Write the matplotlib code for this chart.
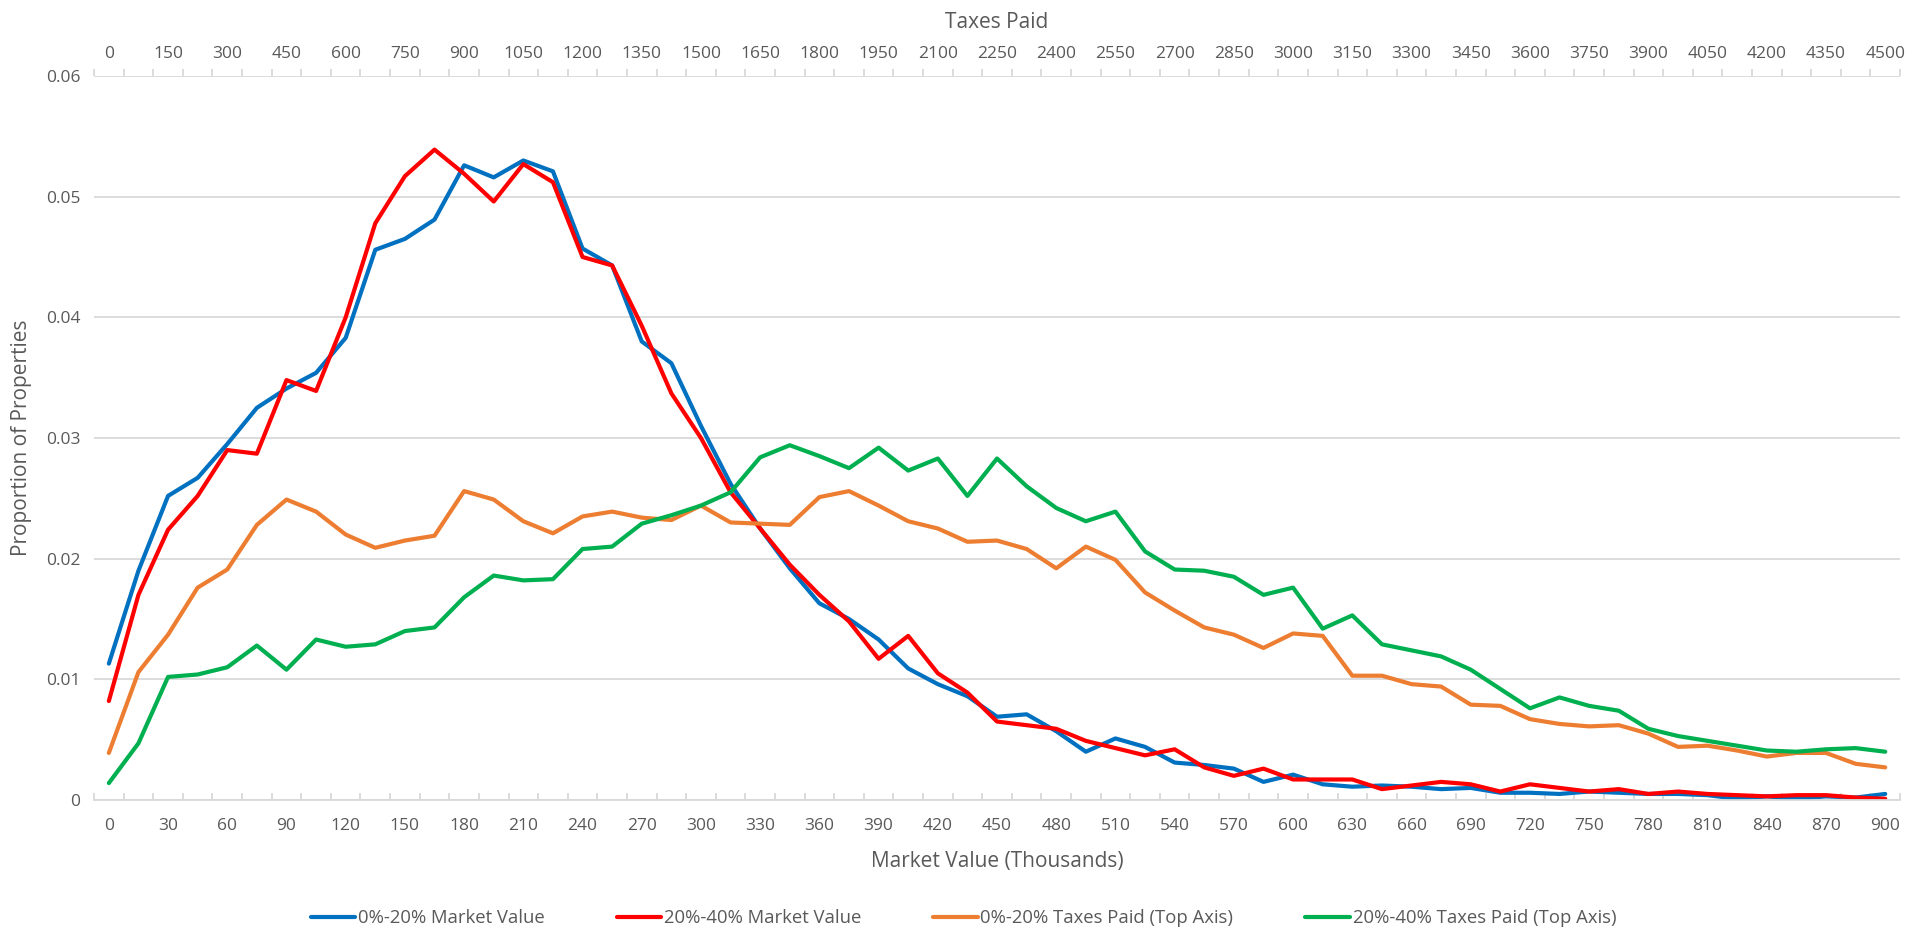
import numpy as np
import matplotlib
matplotlib.use("Agg")
import matplotlib.pyplot as plt

plt.rcParams['font.family'] = ['Open Sans', 'DejaVu Sans']

# categories
market_value = list(range(0, 901, 15))     # thousands
taxes_paid = list(range(0, 4501, 75))

# series (proportion of properties)
mv_0_20 = [0.0113, 0.0190, 0.0252, 0.0267, 0.0295, 0.0325, 0.0341, 0.0354, 0.0383, 0.0456,
           0.0465, 0.0481, 0.0526, 0.0516, 0.0530, 0.0521, 0.0457, 0.0443, 0.0380, 0.0362,
           0.0310, 0.0262, 0.0225, 0.0192, 0.0163, 0.0150, 0.0133, 0.0109, 0.0096, 0.0086,
           0.0069, 0.0071, 0.0057, 0.0040, 0.0051, 0.0044, 0.0031, 0.0029, 0.0026, 0.0015,
           0.0021, 0.0013, 0.0011, 0.0012, 0.0011, 0.0009, 0.0010, 0.0006, 0.0006, 0.0005,
           0.0007, 0.0006, 0.0005, 0.0005, 0.0004, 0.0001, 0.0003, 0.0001, 0.0003, 0.0002,
           0.0005]
mv_20_40 = [0.0082, 0.0170, 0.0224, 0.0252, 0.0290, 0.0287, 0.0348, 0.0339, 0.0400, 0.0478,
            0.0517, 0.0539, 0.0519, 0.0496, 0.0527, 0.0512, 0.0450, 0.0443, 0.0393, 0.0337,
            0.0300, 0.0255, 0.0225, 0.0195, 0.0170, 0.0148, 0.0117, 0.0136, 0.0105, 0.0089,
            0.0065, 0.0062, 0.0059, 0.0049, 0.0043, 0.0037, 0.0042, 0.0027, 0.0020, 0.0026,
            0.0017, 0.0017, 0.0017, 0.0009, 0.0012, 0.0015, 0.0013, 0.0007, 0.0013, 0.0010,
            0.0007, 0.0009, 0.0005, 0.0007, 0.0005, 0.0004, 0.0003, 0.0004, 0.0004, 0.0002,
            0.0001]
tax_0_20 = [0.0039, 0.0106, 0.0137, 0.0176, 0.0191, 0.0228, 0.0249, 0.0239, 0.0220, 0.0209,
            0.0215, 0.0219, 0.0256, 0.0249, 0.0231, 0.0221, 0.0235, 0.0239, 0.0234, 0.0232,
            0.0244, 0.0230, 0.0229, 0.0228, 0.0251, 0.0256, 0.0244, 0.0231, 0.0225, 0.0214,
            0.0215, 0.0208, 0.0192, 0.0210, 0.0199, 0.0172, 0.0157, 0.0143, 0.0137, 0.0126,
            0.0138, 0.0136, 0.0103, 0.0103, 0.0096, 0.0094, 0.0079, 0.0078, 0.0067, 0.0063,
            0.0061, 0.0062, 0.0055, 0.0044, 0.0045, 0.0041, 0.0036, 0.0039, 0.0039, 0.0030,
            0.0027]
tax_20_40 = [0.0014, 0.0047, 0.0102, 0.0104, 0.0110, 0.0128, 0.0108, 0.0133, 0.0127, 0.0129,
             0.0140, 0.0143, 0.0168, 0.0186, 0.0182, 0.0183, 0.0208, 0.0210, 0.0229, 0.0236,
             0.0244, 0.0255, 0.0284, 0.0294, 0.0285, 0.0275, 0.0292, 0.0273, 0.0283, 0.0252,
             0.0283, 0.0260, 0.0242, 0.0231, 0.0239, 0.0206, 0.0191, 0.0190, 0.0185, 0.0170,
             0.0176, 0.0142, 0.0153, 0.0129, 0.0124, 0.0119, 0.0108, 0.0092, 0.0076, 0.0085,
             0.0078, 0.0074, 0.0059, 0.0053, 0.0049, 0.0045, 0.0041, 0.0040, 0.0042, 0.0043,
             0.0040]

c_text = '#595959'
c_grid = '#D9D9D9'

fig = plt.figure(figsize=(19.27, 9.35), dpi=100)
ax = fig.add_axes([0.0488, 0.1444, 0.9372, 0.7743])

# category axis: one slot per category, points centred in slots
n = len(market_value)
idx = np.arange(n)

l1, = ax.plot(idx, mv_0_20, color='#0070C0', lw=3, label='0%-20% Market Value', solid_capstyle='round')
l2, = ax.plot(idx, mv_20_40, color='#FF0000', lw=3, label='20%-40% Market Value', solid_capstyle='round')

ax2 = ax.twiny()
tidx = np.arange(len(taxes_paid))
l3, = ax2.plot(tidx, tax_0_20, color='#ED7D31', lw=3, label='0%-20% Taxes Paid (Top Axis)', solid_capstyle='round')
l4, = ax2.plot(tidx, tax_20_40, color='#00B050', lw=3, label='20%-40% Taxes Paid (Top Axis)', solid_capstyle='round')

for a in (ax, ax2):
    a.set_xlim(-0.5, n - 0.5)
    for s in a.spines.values():
        s.set_visible(False)

ax.set_ylim(0, 0.06)
ax.set_yticks(np.arange(0, 0.061, 0.01))
ax.set_yticklabels(['0', '0.01', '0.02', '0.03', '0.04', '0.05', '0.06'])
ax.grid(axis='y', color=c_grid, lw=1.3)
ax.set_axisbelow(True)
ax.tick_params(axis='y', length=0, labelsize=12.5, labelcolor=c_text, pad=10)

# bottom axis (ticks point up into the plot)
ax.spines['bottom'].set_visible(True)
ax.spines['bottom'].set_color(c_grid)
ax.spines['bottom'].set_linewidth(1.3)
ax.set_xticks(idx[::2])
ax.set_xticklabels([str(v) for v in market_value[::2]])
ax.set_xticks(np.arange(-0.5, n, 1), minor=True)
ax.tick_params(axis='x', which='major', length=0, labelsize=12.5, labelcolor=c_text, pad=13)
ax.tick_params(axis='x', which='minor', length=5, color=c_grid, width=1.3, direction='in')

# top axis (ticks point up, away from the plot)
ax2.set_xticks(tidx[::2])
ax2.set_xticklabels([str(v) for v in taxes_paid[::2]])
ax2.set_xticks(np.arange(-0.5, n, 1), minor=True)
ax2.tick_params(axis='x', which='major', length=0, labelsize=12.5, labelcolor=c_text, pad=10)
ax2.tick_params(axis='x', which='minor', length=5, color=c_grid, width=1.3, direction='out')

ax.set_xlabel('Market Value (Thousands)', fontsize=15, color=c_text, labelpad=12)
ax2.set_xlabel('Taxes Paid', fontsize=15, color=c_text, labelpad=13)
ax.set_ylabel('Proportion of Properties', fontsize=15, color=c_text, labelpad=10)

leg = fig.legend(handles=[l1, l2, l3, l4], loc='center', bbox_to_anchor=(0.5, 0.018), ncol=4,
                 frameon=False, fontsize=13.3, columnspacing=3.9, handlelength=2.4, handletextpad=0.15)
for t in leg.get_texts():
    t.set_color(c_text)

fig.savefig('out.png', dpi=100)
